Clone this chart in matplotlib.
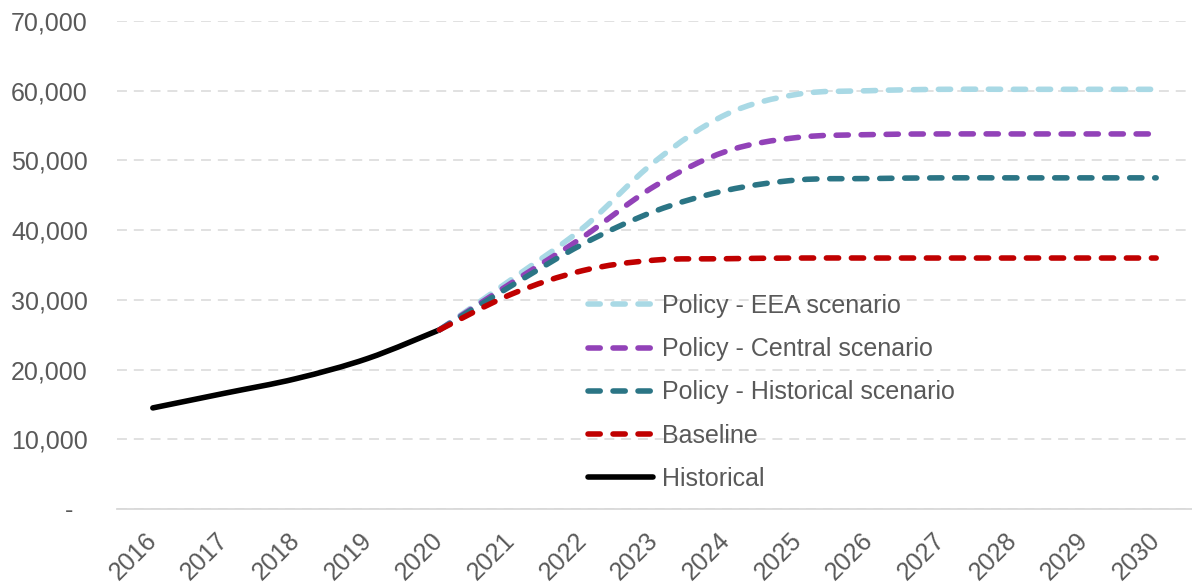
import numpy as np
import matplotlib
matplotlib.use("Agg")
import matplotlib.pyplot as plt
from matplotlib.path import Path
from matplotlib.patches import PathPatch
from matplotlib.lines import Line2D
from matplotlib.ticker import FuncFormatter, MultipleLocator

# ---- data ----
years = [str(y) for y in range(2016, 2031)]
historical = [14500, 16600, 18700, 21600, 25700]                      # 2016-2020
baseline = [25700, 30800, 34200, 35700, 35900, 36000, 36000, 36000, 36000, 36000, 36000]   # 2020-2030
policy_hist = [25700, 32000, 38000, 42700, 45700, 47200, 47400, 47500, 47500, 47500, 47500]
policy_central = [25700, 32400, 39000, 46300, 51300, 53300, 53700, 53800, 53800, 53800, 53800]
policy_eea = [25700, 32900, 40300, 49800, 56600, 59500, 60000, 60200, 60200, 60200, 60200]

series_labels = ["Policy - EEA scenario", "Policy - Central scenario",
                 "Policy - Historical scenario", "Baseline", "Historical"]

# ---- style ----
plt.rcParams["font.family"] = ["Liberation Sans", "DejaVu Sans"]
FS = 18
TXT = "#595959"
GRID = "#d9d9d9"
C_EEA = "#a9d9e5"
C_CENTRAL = "#9242b8"
C_HIST_SCEN = "#2b7585"
C_BASE = "#c00000"
C_HIST = "#000000"
LW = 4.0
DASH = (0, (2.2, 2.3))


def smooth_path(xs, ys):
    """Bezier path through the points (Catmull-Rom style smoothing)."""
    pts = np.column_stack([xs, ys]).astype(float)
    n = len(pts)
    verts = [pts[0]]
    codes = [Path.MOVETO]
    for i in range(n - 1):
        p0 = pts[i - 1] if i > 0 else pts[i]
        p1, p2 = pts[i], pts[i + 1]
        p3 = pts[i + 2] if i + 2 < n else pts[i + 1]
        verts += [p1 + (p2 - p0) / 6.0, p2 - (p3 - p1) / 6.0, p2]
        codes += [Path.CURVE4] * 3
    return Path(verts, codes)


fig = plt.figure(figsize=(11.92, 5.85), dpi=100)
ax = fig.add_axes([117 / 1192, 1 - 509 / 585, 1 - 117 / 1192, (509 - 21) / 585])

x_all = np.arange(len(years))
x_hist = x_all[:len(historical)]
x_proj = x_all[len(historical) - 1:]

for vals, col in [(policy_eea, C_EEA), (policy_central, C_CENTRAL),
                  (policy_hist, C_HIST_SCEN), (baseline, C_BASE)]:
    ax.add_patch(PathPatch(smooth_path(x_proj, vals), fill=False, edgecolor=col,
                           lw=LW, linestyle=DASH, capstyle="round", zorder=3))
ax.add_patch(PathPatch(smooth_path(x_hist, historical), fill=False, edgecolor=C_HIST,
                       lw=LW, capstyle="round", joinstyle="round", zorder=2))

ax.set_xlim(-0.5, len(years) - 0.5)
ax.set_ylim(0, 70000)
ax.yaxis.set_major_locator(MultipleLocator(10000))
ax.yaxis.set_major_formatter(FuncFormatter(lambda v, p: "-  " if v == 0 else f"{v:,.0f}"))
ax.set_xticks(x_all)
ax.set_xticklabels(years, rotation=45, ha="right", va="center", rotation_mode="anchor")

ax.tick_params(axis="both", length=0, labelsize=FS, labelcolor=TXT)
ax.tick_params(axis="y", pad=21)
ax.tick_params(axis="x", pad=20)

ax.grid(axis="y", color=GRID, lw=1.1, linestyle=(0, (6.5, 4.5)))
ax.set_axisbelow(True)
for s in ["top", "left", "right"]:
    ax.spines[s].set_visible(False)
ax.spines["bottom"].set_color(GRID)
ax.spines["bottom"].set_linewidth(1.3)

handles = [
    Line2D([], [], color=C_EEA, lw=LW, linestyle=DASH, dash_capstyle="round"),
    Line2D([], [], color=C_CENTRAL, lw=LW, linestyle=DASH, dash_capstyle="round"),
    Line2D([], [], color=C_HIST_SCEN, lw=LW, linestyle=DASH, dash_capstyle="round"),
    Line2D([], [], color=C_BASE, lw=LW, linestyle=DASH, dash_capstyle="round"),
    Line2D([], [], color=C_HIST, lw=LW, solid_capstyle="round"),
]
leg = fig.legend(handles, series_labels, loc="upper left",
                 bbox_to_anchor=(588 / 1192, 1 - 294 / 585),
                 frameon=False, fontsize=FS, handlelength=2.6, handletextpad=0.35,
                 labelspacing=0.77, borderpad=0, borderaxespad=0)
for t in leg.get_texts():
    t.set_color(TXT)

fig.savefig("out.png", dpi=100, facecolor="white")
